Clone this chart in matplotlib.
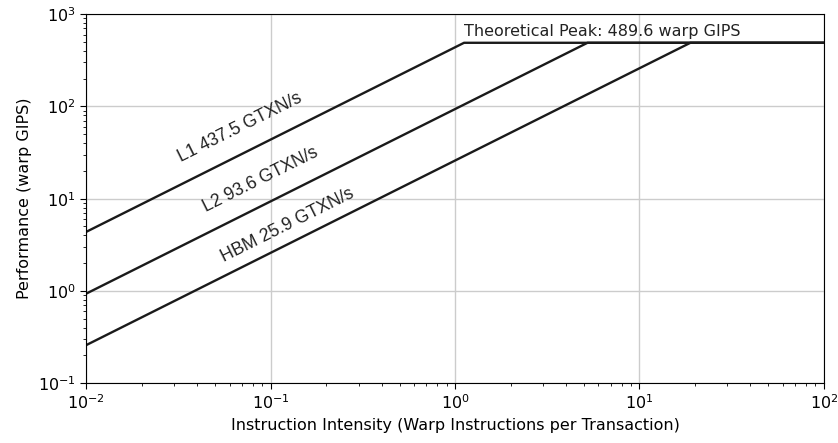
import numpy as np
import matplotlib.pyplot as plt

# memory levels and their bandwidths (GTXN/s)
levels = ["L1", "L2", "HBM"]
bandwidths = [437.5, 93.6, 25.9]
peak_gips = 489.6

# where each roof label sits (x, y in data coords)
label_x = [0.068, 0.088, 0.123]
label_y = [59.6, 15.9, 5.2]

plt.rcParams["font.size"] = 11.5
plt.rcParams["xtick.major.size"] = 4
plt.rcParams["ytick.major.size"] = 4
plt.rcParams["xtick.minor.size"] = 2.3
plt.rcParams["ytick.minor.size"] = 2.3

x = np.logspace(-2, 2, 400)

fig, ax = plt.subplots(figsize=(8.38, 4.43), dpi=100)
for bw in bandwidths:
    ridge = peak_gips / bw
    xs = np.concatenate([x[x < ridge], [ridge, 100]])
    ax.plot(xs, np.minimum(bw * xs, peak_gips), color="#1a1a1a", lw=1.7)

for name, bw, lx, ly in zip(levels, bandwidths, label_x, label_y):
    ax.text(lx, ly, f"{name} {bw} GTXN/s", rotation=26.5, ha="center", va="center",
            family="Liberation Sans", fontsize=12.7, color="#222222")

ax.text(peak_gips / bandwidths[0], peak_gips * 1.1, f"Theoretical Peak: {peak_gips} warp GIPS",
        ha="left", va="bottom", color="#222222")

ax.set_xscale("log")
ax.set_yscale("log")
ax.set_xlim(1e-2, 1e2)
ax.set_ylim(1e-1, 1e3)
ax.grid(True, which="major", color="#cccccc", lw=1)
ax.set_xlabel("Instruction Intensity (Warp Instructions per Transaction)")
ax.set_ylabel("Performance (warp GIPS)")

plt.subplots_adjust(left=0.103, right=0.983, top=0.968, bottom=0.135)
plt.savefig("out.png", dpi=100)
